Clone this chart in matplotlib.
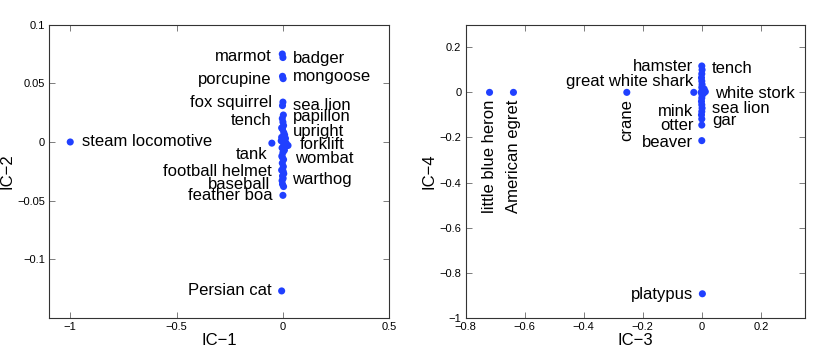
import matplotlib
matplotlib.use("Agg")
import matplotlib.pyplot as plt

plt.rcParams['font.family'] = ['Liberation Sans', 'DejaVu Sans']

# ---- IC-1 vs IC-2 ----
ic1 = [-1.0, -0.006, -0.003, 0.0, -0.002, 0.001, 0.0, -0.002, -0.052, 0.024, 0.002, -0.003,
       0.0, 0.003, -0.002, 0.004, 0.008, -0.006, 0.012, 0.006, -0.008, 0.015, 0.004, 0.010,
       -0.004, 0.007, 0.0, -0.005, 0.003, -0.003, 0.002, -0.006, 0.004, -0.002, 0.001, -0.004,
       -0.002, 0.003, 0.0, -0.006, -0.003, 0.001]
ic2 = [0.0, -0.127, 0.075, 0.072, 0.056, 0.054, 0.034, 0.031, -0.001, -0.003, 0.023, 0.020,
       0.017, 0.014, 0.011, 0.008, 0.006, 0.004, 0.003, 0.002, 0.001, -0.001, -0.002, -0.004,
       -0.005, -0.007, -0.009, -0.012, -0.015, -0.018, -0.021, -0.024, -0.027, -0.029, -0.031,
       -0.033, -0.036, -0.038, -0.0455, 0.012, -0.013, -0.025]

names12 = ['steam locomotive', 'Persian cat', 'marmot', 'badger', 'porcupine', 'mongoose',
           'fox squirrel', 'sea lion', 'tench', 'papillon', 'upright', 'forklift', 'tank',
           'wombat', 'football helmet', 'warthog', 'baseball', 'feather boa']
# label anchor (data units) and alignment
lab12 = [(-0.946, 0.0, 'left'), (-0.053, -0.127, 'right'), (-0.053, 0.0731, 'right'),
         (0.046, 0.0712, 'left'), (-0.053, 0.0529, 'right'), (0.046, 0.0562, 'left'),
         (-0.053, 0.0337, 'right'), (0.046, 0.0309, 'left'), (-0.053, 0.0185, 'right'),
         (0.048, 0.0214, 'left'), (0.048, 0.0093, 'left'), (0.079, -0.0025, 'left'),
         (-0.072, -0.011, 'right'), (0.055, -0.0137, 'left'), (-0.053, -0.0253, 'right'),
         (0.044, -0.0323, 'left'), (-0.059, -0.0363, 'right'), (-0.049, -0.046, 'right')]

# ---- IC-3 vs IC-4 ----
ic3 = [-0.719, -0.638, -0.254, 0.002, -0.027, 0.0, 0.001, 0.0, -0.001, 0.0, 0.001, 0.0,
       0.002, 0.008, 0.012, 0.006, -0.002, 0.001, 0.0, -0.001, 0.0, 0.001, 0.0, -0.001,
       0.0, 0.0, 0.0]
ic4 = [0.0, 0.0, 0.0, -0.893, 0.0, 0.117, 0.10, 0.082, 0.065, 0.05, 0.035, 0.022,
       0.012, 0.015, 0.003, -0.004, 0.0, -0.012, -0.025, -0.04, -0.055, -0.07, -0.085,
       -0.10, -0.118, -0.145, -0.214]

names34 = ['little blue heron', 'American egret', 'crane', 'platypus', 'hamster', 'tench',
           'great white shark', 'white stork', 'mink', 'sea lion', 'otter', 'gar', 'beaver']
lab34 = [(-0.719, -0.03, 'v'), (-0.638, -0.03, 'v'), (-0.254, -0.03, 'v'),
         (-0.028, -0.895, 'right'), (-0.028, 0.115, 'right'), (0.034, 0.107, 'left'),
         (-0.028, 0.046, 'right'), (0.045, -0.0045, 'left'), (-0.028, -0.084, 'right'),
         (0.034, -0.072, 'left'), (-0.028, -0.149, 'right'), (0.034, -0.124, 'left'),
         (-0.028, -0.221, 'right')]

dot_color = '#2040ff'
axis_color = '#333333'
fs = 12


def style(ax):
    for s in ax.spines.values():
        s.set_color(axis_color)
        s.set_linewidth(0.8)
    ax.tick_params(direction='in', top=True, right=True, length=4, width=0.6,
                   color='#666666', labelsize=8, pad=3)


fig = plt.figure(figsize=(8.3, 3.58), dpi=100)

ax1 = fig.add_axes([0.059, 0.112, 0.410, 0.819])
ax1.scatter(ic1, ic2, s=26, color=dot_color, edgecolors='none', zorder=3)
for name, (tx, ty, ha) in zip(names12, lab12):
    ax1.text(tx, ty, name, ha=ha, va='center', fontsize=fs)
ax1.set_xlim(-1.1, 0.5)
ax1.set_ylim(-0.15, 0.1)
ax1.set_xticks([-1, -0.5, 0, 0.5])
ax1.set_xticklabels(['\u22121', '\u22120.5', '0', '0.5'])
ax1.set_yticks([-0.1, -0.05, 0, 0.05, 0.1])
ax1.set_yticklabels(['\u22120.1', '\u22120.05', '0', '0.05', '0.1'])
ax1.set_xlabel('IC\u22121', fontsize=fs, labelpad=1)
ax1.set_ylabel('IC\u22122', fontsize=fs, labelpad=2)
style(ax1)

ax2 = fig.add_axes([0.561, 0.112, 0.409, 0.819])
ax2.scatter(ic3, ic4, s=26, color=dot_color, edgecolors='none', zorder=3)
for name, (tx, ty, ha) in zip(names34, lab34):
    if ha == 'v':
        ax2.text(tx, ty, name, ha='center', va='top', rotation=90, fontsize=fs)
    else:
        ax2.text(tx, ty, name, ha=ha, va='center', fontsize=fs)
ax2.set_xlim(-0.8, 0.35)
ax2.set_ylim(-1, 0.3)
ax2.set_xticks([-0.8, -0.6, -0.4, -0.2, 0, 0.2])
ax2.set_xticklabels(['\u22120.8', '\u22120.6', '\u22120.4', '\u22120.2', '0', '0.2'])
ax2.set_yticks([-1, -0.8, -0.6, -0.4, -0.2, 0, 0.2])
ax2.set_yticklabels(['\u22121', '\u22120.8', '\u22120.6', '\u22120.4', '\u22120.2', '0', '0.2'])
ax2.set_xlabel('IC\u22123', fontsize=fs, labelpad=1)
ax2.set_ylabel('IC\u22124', fontsize=fs, labelpad=2)
style(ax2)

fig.savefig('out.png', dpi=100)
